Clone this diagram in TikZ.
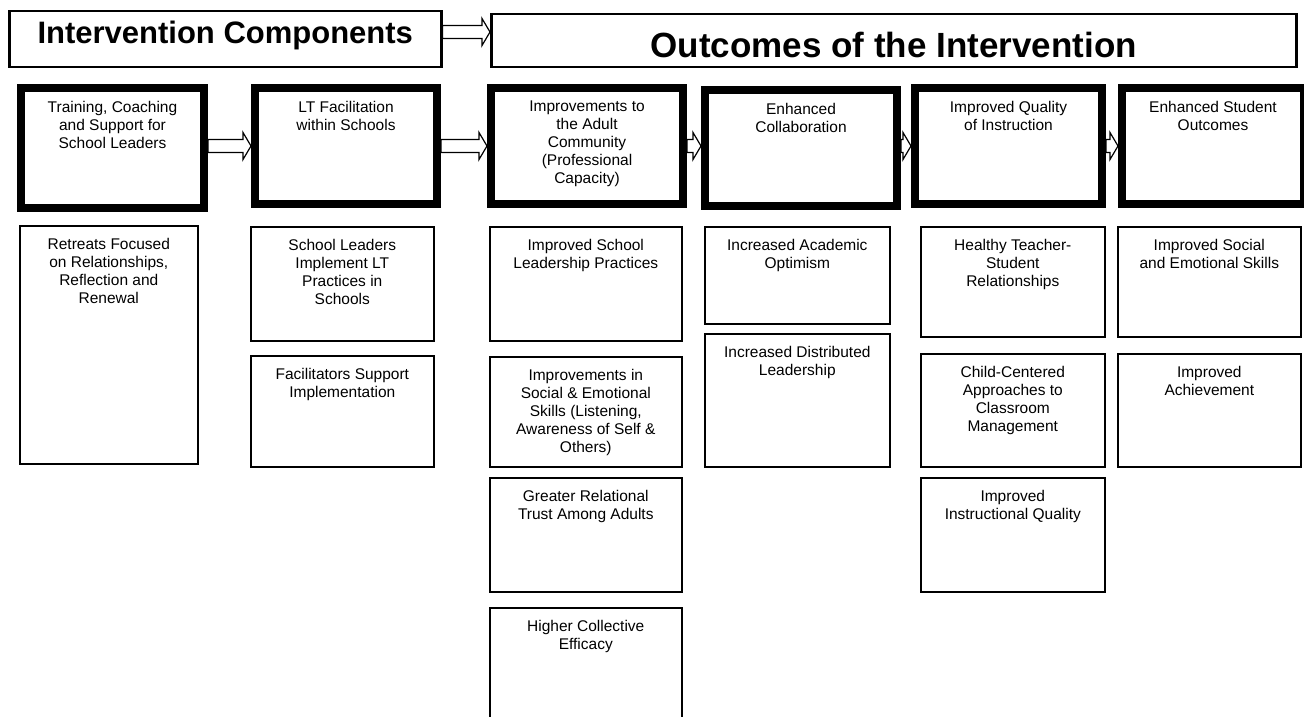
\documentclass[tikz,border=0pt]{standalone}
\usepackage{fontspec}
\setmainfont{Liberation Sans}
\usepackage{tikz}
\usetikzlibrary{calc}
\usetikzlibrary{backgrounds}

\newcommand{\boxtext}[4]{\parbox[c][#2][t]{#1}{\centering\vspace*{#3}#4\par}}

\tikzset{
  header/.style={draw,line width=2.5pt,anchor=north west,inner sep=0pt,font=\bfseries\fontsize{31}{36}\selectfont},
  stage/.style={draw,line width=8pt,anchor=north west,inner sep=0pt,font=\fontsize{15.5}{18}\selectfont},
  effect/.style={draw,line width=1.6pt,anchor=north west,inner sep=0pt,font=\fontsize{15.5}{18}\selectfont},
  blockarrow/.style={draw,fill=white,line width=1.2pt,line join=miter,
    to path={($(\tikztostart)+(0,-6.5)$) -- ($(\tikztotarget)+(-8,-6.5)$) -- ($(\tikztotarget)+(-8,-13.5)$)
      -- (\tikztotarget) -- ($(\tikztotarget)+(-8,13.5)$) -- ($(\tikztotarget)+(-8,6.5)$)
      -- ($(\tikztostart)+(0,6.5)$) -- cycle}}
}

\begin{document}
\begin{tikzpicture}[x=1pt,y=-1pt]
\useasboundingbox (0,0) rectangle (1304,717);
		% headers
		\node[header] (H1) at (8,10) {\boxtext{432pt}{56pt}{10pt}{Intervention Components}};
		\node[header,font=\bfseries\fontsize{35}{40}\selectfont] (H2) at (490,13) {\boxtext{805pt}{53pt}{18pt}{Outcomes of the Intervention}};
		% stages
		\node[stage] (T1) at (17,84) {\boxtext{183pt}{120pt}{13pt}{Training, Coaching\\and Support for\\School Leaders}};
		\node[stage] (T2) at (251,84) {\boxtext{182pt}{116pt}{13pt}{LT Facilitation\\within Schools}};
		\node[stage] (T3) at (487,84) {\boxtext{192pt}{116pt}{13pt}{Improvements to\\the Adult\\Community\\(Professional\\Capacity)}};
		\node[stage] (T4) at (701,86) {\boxtext{192pt}{116pt}{13pt}{Enhanced\\Collaboration}};
		\node[stage] (T5) at (911,84) {\boxtext{187pt}{116pt}{13pt}{Improved Quality\\of Instruction}};
		\node[stage] (T6) at (1118,84) {\boxtext{182pt}{116pt}{13pt}{Enhanced Student\\Outcomes}};
		% effects
		\node[effect] (E1) at (19,225) {\boxtext{178pt}{238pt}{12pt}{Retreats Focused\\on Relationships,\\Reflection and\\Renewal}};
		\node[effect] (E2) at (250,226) {\boxtext{183pt}{114pt}{12pt}{School Leaders\\Implement LT\\Practices in\\Schools}};
		\node[effect] (E3) at (250,355) {\boxtext{183pt}{111pt}{12pt}{Facilitators Support\\Implementation}};
		\node[effect] (E4) at (489,226) {\boxtext{192pt}{114pt}{12pt}{Improved School\\Leadership Practices}};
		\node[effect] (E5) at (489,356) {\boxtext{192pt}{110pt}{12pt}{Improvements in\\Social \& Emotional\\Skills (Listening,\\Awareness of Self \&\\Others)}};
		\node[effect] (E6) at (489,477) {\boxtext{192pt}{114pt}{12pt}{Greater Relational\\Trust Among Adults}};
		\node[effect] (E7) at (489,607) {\boxtext{192pt}{114pt}{12pt}{Higher Collective\\Efficacy}};
		\node[effect] (E8) at (704,226) {\boxtext{185pt}{97pt}{12pt}{Increased Academic\\Optimism}};
		\node[effect] (E9) at (704,333) {\boxtext{185pt}{133pt}{12pt}{Increased Distributed\\Leadership}};
		\node[effect] (E10) at (920,226) {\boxtext{184pt}{110pt}{12pt}{Healthy Teacher-\\Student\\Relationships}};
		\node[effect] (E11) at (920,353) {\boxtext{184pt}{113pt}{12pt}{Child-Centered\\Approaches to\\Classroom\\Management}};
		\node[effect] (E12) at (920,477) {\boxtext{184pt}{114pt}{12pt}{Improved\\Instructional Quality}};
		\node[effect] (E13) at (1117,226) {\boxtext{183pt}{110pt}{12pt}{Improved Social\\and Emotional Skills}};
		\node[effect] (E14) at (1117,353) {\boxtext{183pt}{113pt}{12pt}{Improved\\Achievement}};
		% arrows
		\coordinate (R) at (0,32);
		\coordinate (S) at (0,146);
		\begin{scope}[on background layer]
		\draw[blockarrow] (H1.east |- R) to (H2.west |- R);
		\draw[blockarrow] (T1.east |- S) to (T2.west |- S);
		\draw[blockarrow] (T2.east |- S) to (T3.west |- S);
		\draw[blockarrow] (T3.east |- S) to (T4.west |- S);
		\draw[blockarrow] (T4.east |- S) to (T5.west |- S);
		\draw[blockarrow] (T5.east |- S) to (T6.west |- S);
		\end{scope}
\end{tikzpicture}
\end{document}
